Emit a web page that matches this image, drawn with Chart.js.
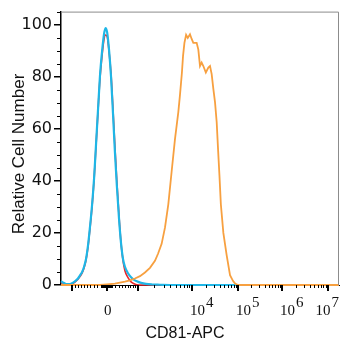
<!DOCTYPE html>
<html>
<head>
<meta charset="utf-8">
<script src="https://cdn.jsdelivr.net/npm/chart.js@4.4.1/dist/chart.umd.min.js"></script>
<style>
  html, body { margin: 0; padding: 0; background: #fff; }
</style>
</head>
<body>
<canvas id="histChart" width="350" height="350"></canvas>
<script>
// biexponential display: decade positions in channels (0-1000 across the axis)
var decadeValues = [1e3, 1e4, 1e5, 1e6, 1e7];
var decadeChannels = [277, 471, 637, 795, 960];
var zeroChannel = 165;
var negDecadeChannel = 40;

var majorTickValues = [-1e3, 0, 1e3, 1e4, 1e5, 1e6, 1e7];
var xLabelValues = [0, 1e4, 1e5, 1e6, 1e7];
var yTickValues = [0, 20, 40, 60, 80, 100];

// unstained / isotype histograms share the same bins
var controlChannels = [0, 7, 18, 29, 40, 50, 61, 68, 76, 83, 90, 97, 104, 112, 119, 126, 133, 140, 148, 155,
  160, 166, 173, 180, 187, 194, 201, 209, 216, 223, 230, 241, 252, 263, 273, 288, 306, 327, 356, 392, 1000];
var blueCounts = [1.5, 1.0, 0.4, 0.3, 0.7, 1.4, 2.5, 3.6, 5.0, 7.0, 10, 15, 22, 31, 41, 54, 67, 80, 90, 96.5,
  98.7, 97, 90, 80, 66, 51, 38, 25, 16, 10, 7, 4.5, 3, 2, 1.4, 0.8, 0.4, 0.2, 0.1, 0, 0];
var redCounts = [1.2, 0.8, 0.3, 0.2, 0.5, 1.1, 2.2, 3.2, 4.6, 6.6, 9.6, 14.5, 21.5, 30.5, 40.5, 53.5, 66.5, 79, 88.5, 94.5,
  96, 95.5, 89.5, 81, 67.5, 53, 39.5, 26, 16, 9.5, 5.5, 2.8, 1.2, 0.5, 0.1, 0, 0, 0, 0, 0, 0];

// CD81-APC stained
var orangeChannels = [0, 140, 165, 194, 212, 230, 248, 266, 284, 302, 320, 338, 349, 362, 374, 386, 398, 410, 422, 428,
  435, 439, 444, 450, 456, 464, 470, 476, 488, 494, 500, 506, 512, 521, 530, 536, 542, 548, 554, 560,
  565, 570, 575, 584, 596, 608, 619, 626, 637, 1000];
var orangeCounts = [0, 0, 0.2, 0.5, 0.9, 1.3, 1.8, 2.5, 3.4, 4.8, 6.6, 9.3, 12, 15.8, 22, 31, 43.6, 56, 66.4, 73,
  81.6, 88, 93, 96.1, 94.9, 96.3, 94.5, 93, 93, 90.4, 84.1, 85.4, 84.1, 81.6, 83.5, 84.1, 81, 75.3, 70.2, 62.6,
  52, 42, 31, 20, 11.4, 3.8, 1.5, 0.6, 0, 0];

function toChannel(v) {
  if (v === 0) return zeroChannel;
  var a = Math.abs(v);
  if (a <= 1e3) {
    var span = v > 0 ? decadeChannels[0] - zeroChannel : zeroChannel - negDecadeChannel;
    return zeroChannel + Math.sign(v) * span * Math.pow(a / 1e3, 0.8);
  }
  var lg = Math.log10(a);
  var k = Math.min(Math.floor(lg) - 3, decadeChannels.length - 2);
  var f = lg - Math.log10(decadeValues[k]);
  return decadeChannels[k] + f * (decadeChannels[k + 1] - decadeChannels[k]);
}

var minorTickValues = [];
for (var m = 1; m <= 9; m++) {
  minorTickValues.push(m * 10, -m * 10);
  if (m > 1) minorTickValues.push(m * 100, -m * 100);
}
minorTickValues.push(100, -100);
decadeValues.slice(0, 4).forEach(function (d) {
  for (var m = 2; m <= 9; m++) minorTickValues.push(m * d);
});

function pts(ch, counts) {
  return ch.map(function (c, i) { return { x: c, y: counts[i] }; });
}

var axisDecor = {
  id: 'axisDecor',
  afterDraw: function (chart) {
    var ctx = chart.ctx, a = chart.chartArea, x = chart.scales.x, y = chart.scales.y;
    ctx.save();
    // top and right frame
    ctx.strokeStyle = '#8c8c8c';
    ctx.lineWidth = 1;
    ctx.beginPath();
    ctx.moveTo(a.left, a.top + 0.5);
    ctx.lineTo(a.right - 0.5, a.top + 0.5);
    ctx.lineTo(a.right - 0.5, a.bottom);
    ctx.stroke();

    // y minor ticks every 5
    ctx.strokeStyle = '#000';
    ctx.beginPath();
    for (var v = 5; v <= 105; v += 5) {
      if (v % 20 === 0) continue;
      var py = Math.round(y.getPixelForValue(v)) + 0.5;
      ctx.moveTo(a.left - 4, py);
      ctx.lineTo(a.left, py);
    }
    ctx.stroke();

    // x ticks below the axis
    ctx.beginPath();
    minorTickValues.forEach(function (val) {
      var px = Math.round(x.getPixelForValue(toChannel(val))) + 0.5;
      ctx.moveTo(px, a.bottom);
      ctx.lineTo(px, a.bottom + 3);
    });
    ctx.stroke();
    ctx.lineWidth = 2;
    ctx.beginPath();
    majorTickValues.forEach(function (val) {
      var px = Math.round(x.getPixelForValue(toChannel(val)));
      ctx.moveTo(px, a.bottom);
      ctx.lineTo(px, a.bottom + 6);
    });
    ctx.stroke();

    // x tick labels, powers of ten with raised exponent
    ctx.fillStyle = '#111';
    ctx.font = '15px "Liberation Serif"';
    ctx.textBaseline = 'alphabetic';
    xLabelValues.forEach(function (val) {
      var px = x.getPixelForValue(toChannel(val));
      if (val === 0) {
        ctx.textAlign = 'center';
        ctx.fillText('0', px + 1, 315);
        return;
      }
      ctx.textAlign = 'left';
      var sup = String(Math.round(Math.log10(val)));
      var wb = ctx.measureText('10').width, ws = ctx.measureText(sup).width;
      var left = px - 2;
      if (left + wb + ws + 1 > a.right) left = a.right - wb - ws - 1;
      ctx.fillText('10', left, 315);
      ctx.fillText(sup, left + wb + 1, 307);
    });

    // axis titles
    ctx.fillStyle = '#111';
    ctx.textAlign = 'center';
    ctx.font = '16px "Liberation Sans"';
    ctx.fillText('CD81-APC', 185, 338);
    ctx.font = '17px "Liberation Sans"';
    ctx.translate(24, 154);
    ctx.rotate(-Math.PI / 2);
    ctx.fillText('Relative Cell Number', 0, 0);
    ctx.restore();
  }
};

var ctx = document.getElementById('histChart').getContext('2d');
var histChart = new Chart(ctx, {
  type: 'line',
  data: {
    datasets: [{
      label: 'CD81-APC',
      data: pts(orangeChannels, orangeCounts),
      borderColor: '#f7a040',
      borderWidth: 1.8,
      tension: 0,
      clip: false
    }, {
      label: 'Control',
      data: pts(controlChannels, blueCounts),
      borderColor: '#1fb6e6',
      borderWidth: 2.2,
      cubicInterpolationMode: 'monotone',
      clip: false
    }, {
      label: 'Isotype',
      data: pts(controlChannels, redCounts),
      borderColor: '#e8262a',
      borderWidth: 1.6,
      cubicInterpolationMode: 'monotone',
      clip: false
    }]
  },
  options: {
    responsive: false,
    animation: false,
    devicePixelRatio: 1,
    layout: { padding: { top: 8, right: 11, left: 0, bottom: 0 } },
    elements: { point: { radius: 0 } },
    plugins: { legend: { display: false }, tooltip: { enabled: false } },
    scales: {
      x: {
        type: 'linear',
        min: 0,
        max: 1000,
        ticks: { display: false },
        grid: { display: false },
        border: { color: '#000', width: 1 },
        afterFit: function (s) { s.height = 65; }
      },
      y: {
        min: 0,
        max: 105,
        afterBuildTicks: function (s) {
          s.ticks = yTickValues.map(function (v) { return { value: v }; });
        },
        ticks: {
          color: '#111',
          padding: 2,
          font: { family: 'DejaVu Sans', size: 16 }
        },
        grid: { drawOnChartArea: false, tickLength: 7, color: '#000', lineWidth: 1.5 },
        border: { color: '#000', width: 1.5 },
        afterFit: function (s) { s.width = 61; }
      }
    }
  },
  plugins: [axisDecor]
});
</script>
</body>
</html>
